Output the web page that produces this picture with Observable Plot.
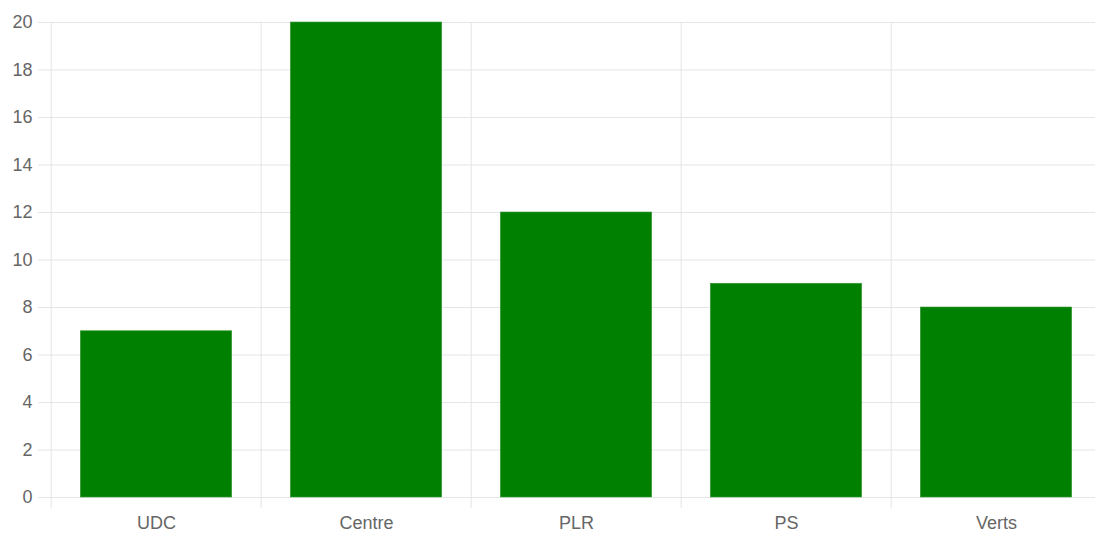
<!DOCTYPE html>
<html>
<head>
<meta charset="utf-8">
<script src="https://cdn.jsdelivr.net/npm/d3@7"></script>
<script src="https://cdn.jsdelivr.net/npm/@observablehq/plot@0.6"></script>
<style>
  html, body { margin: 0; padding: 0; background: #fff; overflow: hidden; }
  #chart svg { display: block; }
</style>
</head>
<body>
<div id="chart"></div>
<script>
const categories = ["UDC", "Centre", "PLR", "PS", "Verts"];
const values = [7, 20, 12, 9, 8];
const yTicks = [0, 2, 4, 6, 8, 10, 12, 14, 16, 18, 20];

const data = categories.map((c, i) => ({party: c, value: values[i]}));

const W = 1095, H = 534;
const mL = 49, mR = -7, mT = 22, mB = 37;
const bw = (W - mL - mR) / categories.length;
const inset = (bw - 152) / 2;

const chart = Plot.plot({
  width: W,
  height: H,
  marginLeft: mL,
  marginRight: mR,
  marginTop: mT,
  marginBottom: mB,
  style: {fontFamily: "'Liberation Sans', Arial, sans-serif", fontSize: "18px", color: "#666", background: "#fff", overflow: "hidden"},
  x: {type: "band", domain: categories, padding: 0, label: null},
  y: {domain: [0, 20], label: null},
  marks: [
    Plot.ruleY(yTicks, {y: d => d, stroke: "#e5e5e5", strokeWidth: 1, insetLeft: -11}),
    Plot.ruleX(categories, {x: d => d, dx: -bw / 2, stroke: "#e5e5e5", strokeWidth: 1, insetBottom: -11}),
    Plot.barY(data, {x: "party", y: "value", fill: "#008000", stroke: "#3a9a3a", strokeWidth: 0.6, insetLeft: inset, insetRight: inset}),
    Plot.axisY({ticks: yTicks, tickSize: 0, tickPadding: 17, fill: "#666", fontSize: 18, label: null}),
    Plot.axisX({tickSize: 0, tickPadding: 19, fill: "#666", fontSize: 18, label: null})
  ]
});
document.getElementById("chart").appendChild(chart);
</script>
</body>
</html>
